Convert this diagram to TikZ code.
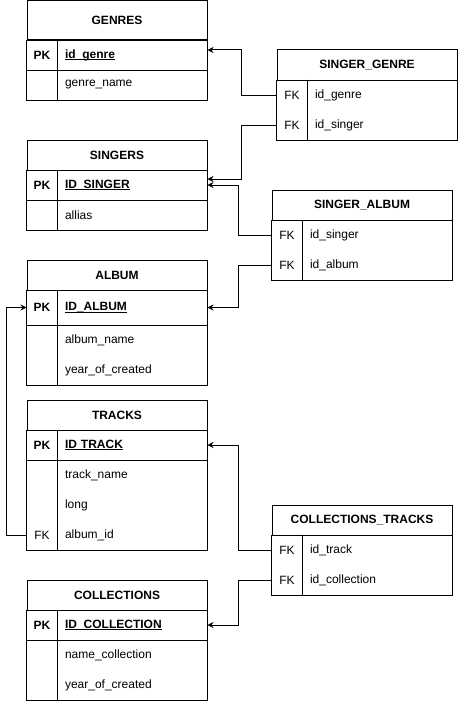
\documentclass[tikz,border=0pt]{standalone}
\usepackage{fontspec}
\setmainfont{Liberation Sans}
\usetikzlibrary{arrows.meta}
\newcommand\keyname[1]{\setbox0\hbox{#1}\rlap{\rule[-1.6pt]{\wd0}{0.9pt}}\box0}
\begin{document}
\begin{tikzpicture}[x=1pt,y=-1pt,line width=1pt,font=\fontsize{12}{14}\selectfont]
    % Node styles
    \tikzstyle{title} = [rectangle, draw, minimum width=180pt, minimum height=30pt, inner sep=0pt, font=\fontsize{12}{14}\selectfont\bfseries]
    \tikzstyle{keycell} = [rectangle, minimum width=30pt, minimum height=30pt, inner sep=0pt]
    \tikzstyle{pkcell} = [keycell, font=\fontsize{12}{14}\selectfont\bfseries]
    \tikzstyle{fieldcell} = [rectangle, minimum height=30pt, text width=134pt, inner xsep=8pt, inner ysep=0pt, align=left]
    \tikzstyle{fk} = [-{Stealth[length=6pt,width=6pt]}, line width=1pt]

    \fill[white] (0,0) rectangle (458,701);

    % GENRES
    \node[title, minimum height=39pt] (genres) at (117,20.5) {GENRES};
    \node[pkcell] (genres_pk) at (42,55) {PK};
    \node[fieldcell] (genres_id) at (132,55) {\bfseries\keyname{id\_genre}};
    \node[fieldcell] (genres_name) at (132,85) {genre\_name};
    \draw (genres.south west) rectangle (genres_name.south east);
    \draw (genres_pk.south west) -- (genres_id.south east);
    \draw (genres_pk.north east) -- (genres_pk.north east |- genres_name.south);

    % SINGER_GENRE
    \node[title] (sg) at (367,65) {SINGER\_GENRE};
    \node[keycell] (sg_k1) at (292,95) {FK};
    \node[fieldcell] (sg_genre) at (382,95) {id\_genre};
    \node[keycell] (sg_k2) at (292,125) {FK};
    \node[fieldcell] (sg_singer) at (382,125) {id\_singer};
    \draw (sg.south west) rectangle (sg_singer.south east);
    \draw (sg_k1.north east) -- (sg_k2.south east);

    % SINGERS
    \node[title] (singers) at (117,155) {SINGERS};
    \node[pkcell] (singers_pk) at (42,185) {PK};
    \node[fieldcell] (singers_id) at (132,185) {\bfseries\keyname{ID\_SINGER}};
    \node[fieldcell] (singers_alias) at (132,215) {allias};
    \draw (singers.south west) rectangle (singers_alias.south east);
    \draw (singers_pk.south west) -- (singers_id.south east);
    \draw (singers_pk.north east) -- (singers_pk.north east |- singers_alias.south);

    % SINGER_ALBUM
    \node[title] (sa) at (362,205) {SINGER\_ALBUM};
    \node[keycell] (sa_k1) at (287,235) {FK};
    \node[fieldcell] (sa_singer) at (377,235) {id\_singer};
    \node[keycell] (sa_k2) at (287,265) {FK};
    \node[fieldcell] (sa_album) at (377,265) {id\_album};
    \draw (sa.south west) rectangle (sa_album.south east);
    \draw (sa_k1.north east) -- (sa_k2.south east);

    % ALBUM
    \node[title] (album) at (117,275) {ALBUM};
    \node[pkcell, minimum height=35pt] (album_pk) at (42,307.5) {PK};
    \node[fieldcell, minimum height=35pt] (album_id) at (132,307.5) {\bfseries\keyname{ID\_ALBUM}};
    \node[fieldcell] (album_name) at (132,340) {album\_name};
    \node[fieldcell] (album_year) at (132,370) {year\_of\_created};
    \draw (album.south west) rectangle (album_year.south east);
    \draw (album_pk.south west) -- (album_id.south east);
    \draw (album_pk.north east) -- (album_pk.north east |- album_year.south);

    % TRACKS
    \node[title] (tracks) at (117,415) {TRACKS};
    \node[pkcell] (tracks_pk) at (42,445) {PK};
    \node[fieldcell] (tracks_id) at (132,445) {\bfseries\keyname{ID TRACK}};
    \node[fieldcell] (tracks_name) at (132,475) {track\_name};
    \node[fieldcell] (tracks_long) at (132,505) {long};
    \node[keycell] (tracks_fk) at (42,535) {FK};
    \node[fieldcell] (tracks_album) at (132,535) {album\_id};
    \draw (tracks.south west) rectangle (tracks_album.south east);
    \draw (tracks_pk.south west) -- (tracks_id.south east);
    \draw (tracks_pk.north east) -- (tracks_fk.south east);

    % COLLECTIONS_TRACKS
    \node[title] (ct) at (362,520) {COLLECTIONS\_TRACKS};
    \node[keycell] (ct_k1) at (287,550) {FK};
    \node[fieldcell] (ct_track) at (377,550) {id\_track};
    \node[keycell] (ct_k2) at (287,580) {FK};
    \node[fieldcell] (ct_coll) at (377,580) {id\_collection};
    \draw (ct.south west) rectangle (ct_coll.south east);
    \draw (ct_k1.north east) -- (ct_k2.south east);

    % COLLECTIONS
    \node[title] (coll) at (117,595) {COLLECTIONS};
    \node[pkcell] (coll_pk) at (42,625) {PK};
    \node[fieldcell] (coll_id) at (132,625) {\bfseries\keyname{ID\_COLLECTION}};
    \node[fieldcell] (coll_name) at (132,655) {name\_collection};
    \node[fieldcell] (coll_year) at (132,685) {year\_of\_created};
    \draw (coll.south west) rectangle (coll_year.south east);
    \draw (coll_pk.south west) -- (coll_id.south east);
    \draw (coll_pk.north east) -- (coll_pk.north east |- coll_year.south);

    % Arrows
    \draw[fk] (sg_k1.west) -- ++(-35,0) |- ([yshift=5pt]genres_id.east);
    \draw[fk] (sg_k2.west) -- ++(-35,0) |- ([yshift=6pt]singers_id.east);
    \draw[fk] (sa_k1.west) -- ++(-33,0) |- (singers_id.east);
    \draw[fk] (sa_k2.west) -- ++(-33,0) |- (album_id.east);
    \draw[fk] (tracks_fk.west) -- ++(-20,0) |- (album_pk.west);
    \draw[fk] (ct_k1.west) -- ++(-33,0) |- (tracks_id.east);
    \draw[fk] (ct_k2.west) -- ++(-33,0) |- (coll_id.east);
\end{tikzpicture}
\end{document}
